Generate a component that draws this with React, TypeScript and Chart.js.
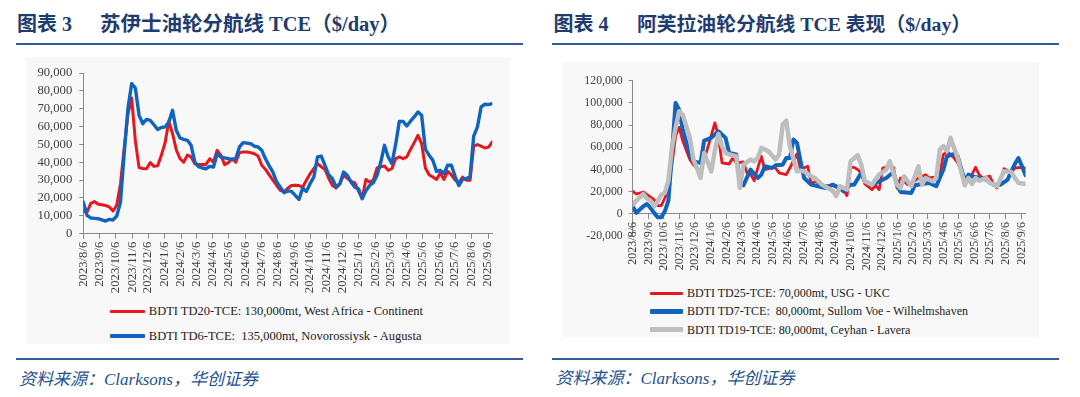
import React, { useEffect, useRef } from 'react';
import { Chart, registerables } from 'chart.js';

Chart.register(...registerables);

// ---------- tick labels (monthly) ----------
const tickLabels = [
  '2023/8/6', '2023/9/6', '2023/10/6', '2023/11/6', '2023/12/6',
  '2024/1/6', '2024/2/6', '2024/3/6', '2024/4/6', '2024/5/6', '2024/6/6', '2024/7/6',
  '2024/8/6', '2024/9/6', '2024/10/6', '2024/11/6', '2024/12/6',
  '2025/1/6', '2025/2/6', '2025/3/6', '2025/4/6', '2025/5/6', '2025/6/6', '2025/7/6',
  '2025/8/6', '2025/9/6',
];
const startDate = '2023/8/6';
const lastWeek = 110;

// ---------- left chart: Suezmax (values in $000/day, weekly) ----------
const suezWeeks = Array.from({ length: 111 }, (_, i) => i);
const td20Values = [
  12.5, 12, 17, 18, 16.5, 16.2, 15.8, 15, 12.7, 16, 28, 48, 67, 76, 52, 37, 36.5, 36.4, 39.8, 37.7,
  38, 44, 51, 63, 56, 47, 42, 40, 44, 43, 39.2, 38.7, 38.8, 38.8, 42, 40, 46.7, 43.9, 38.7, 39.8,
  42, 40, 45.4, 45.8, 45.8, 45.4, 44.8, 43.5, 38.3, 36, 33, 30, 27, 24.3, 23.5, 25.5, 27, 27.2, 27, 26,
  30, 33.6, 36.5, 39.2, 37.5, 36, 31, 27, 25.6, 28, 32.7, 31, 29.3, 28.6, 24, 19.6, 30.4, 28.9, 30, 36.8,
  37.5, 37.9, 35.5, 36.5, 42, 43, 42, 43, 47.2, 51, 55.1, 50.4, 36.8, 33, 31.7, 30.4, 34, 30.4, 34.9, 33,
  30, 28.5, 31.7, 30, 29.9, 49.1, 49.9, 49, 48, 48.5, 51.4,
];
const td6Values = [
  17.7, 10.3, 8.8, 8.6, 8.4, 7.8, 7.1, 8, 7.7, 9.9, 17.7, 45, 70, 84, 81.6, 66.3, 61.6, 64, 63.5, 61,
  58.4, 59.5, 59.8, 62.6, 69.1, 57.9, 53.6, 52.8, 52.3, 49.5, 40.1, 37.5, 36.8, 36.4, 37.7, 37.3, 44.8, 43, 42.5, 42,
  41.5, 42, 48.6, 51, 50.7, 50.4, 49, 48.6, 46.7, 42, 38, 34.5, 28.9, 26, 23, 24, 23.7, 21.5, 19.2, 25.6,
  23.7, 28, 31.7, 43, 43.5, 38.3, 33, 30.8, 26.1, 28, 34.5, 32.7, 29, 26.1, 25.2, 19.6, 24, 27, 28.6, 32.7,
  40, 49.5, 43, 39.2, 50, 62.9, 62.9, 60.3, 63, 65.4, 68.2, 66.3, 47.2, 44, 41.1, 34.9, 35.5, 33.6, 38.3, 38.3,
  32, 27, 30.4, 31, 31.7, 54.7, 59.8, 71, 72.5, 72.3, 72.8,
];

// ---------- right chart: Aframax (values in $000/day) ----------
const td25Weeks = [0, 1, 3, 4, 6, 7, 8, 9, 10, 11, 12, 13, 14, 16, 17, 19, 21, 23, 24, 25, 27, 28, 29, 31, 32, 33, 34, 36, 37, 39, 40, 41, 43, 44, 46, 47, 49, 50, 51, 53, 54, 56, 57, 59, 60, 61, 62, 63, 64, 65, 67, 68, 69, 70, 72, 73, 74, 75, 77, 78, 80, 82, 83, 84, 85, 86, 87, 88, 90, 91, 93, 94, 96, 97, 98, 100, 101, 102, 104, 106, 107, 109, 110];
const td25Values = [20.4, 18, 19.8, 17.5, 12.9, 7.5, 7.5, 14.4, 24, 45, 70, 78, 66, 49, 44.4, 38.4, 59.5, 82, 70, 46, 45, 50.4, 46, 46.8, 37, 36, 30, 52, 40, 42, 41.4, 37, 35.4, 41.4, 54, 40, 43, 27, 29.4, 26, 25.5, 25.8, 24, 21.9, 16.5, 42, 42, 40, 37, 27, 21.9, 25.8, 21.9, 41.4, 43, 42, 23.4, 32.4, 26.4, 27, 32.4, 35.4, 32.4, 33, 32, 36, 53.5, 56.5, 50.4, 46, 32.4, 29.4, 42, 35.4, 32.4, 34, 27, 23.4, 40.8, 37, 41.4, 42, 41.4];
const td7Weeks = [0, 1, 2, 3, 4, 5, 6, 7, 8, 9, 10, 11, 12, 13, 14, 16, 17, 19, 20, 22, 24, 26, 27, 29, 30, 31, 33, 35, 36, 37, 39, 40, 42, 43, 44, 45, 46, 47, 48, 50, 52, 54, 56, 58, 59, 61, 62, 64, 65, 67, 69, 71, 73, 74, 75, 78, 79, 81, 83, 85, 87, 88, 90, 91, 93, 94, 95, 97, 99, 101, 103, 105, 106, 107, 108, 109, 110];
const td7Values = [7, 1, 4, 7, 9, 5.4, 1, -3, -3, 2.4, 12, 55, 100, 94, 76, 53.5, 47.4, 46, 66, 68.5, 74.5, 68.5, 55, 53.5, 29.4, 25.8, 40, 32.4, 35.4, 43, 41.4, 43.8, 44.4, 50.4, 50.4, 67, 64, 47.4, 32.4, 26.4, 25, 23.4, 26.4, 23.4, 20.4, 26.4, 26.4, 37, 29.4, 25.8, 29.4, 32.4, 37.8, 26.4, 19.8, 18.9, 25.8, 27, 27.9, 25, 40, 52, 54, 52, 29.4, 35.4, 34, 32.4, 31, 26.4, 26.4, 31, 38.4, 45, 50.4, 43, 34.8];
const td19Weeks = [0, 1, 3, 4, 5, 6, 7, 8, 9, 10, 11, 12, 13, 14, 16, 17, 18, 19, 20, 22, 23, 24, 25, 26, 27, 29, 30, 31, 33, 34, 35, 36, 38, 40, 41, 42, 43, 44, 46, 47, 48, 50, 51, 53, 54, 56, 57, 58, 60, 61, 63, 64, 65, 67, 69, 71, 72, 74, 75, 76, 78, 80, 81, 82, 84, 85, 86, 87, 88, 89, 90, 91, 93, 94, 95, 96, 97, 99, 100, 102, 104, 106, 107, 108, 110];
const td19Values = [8.4, 12, 18, 13.8, 12, 6.9, 11.4, 17.4, 19, 30, 60, 77.5, 92.5, 89.5, 68.5, 49, 41.4, 32.4, 55, 38.4, 57, 72, 61, 55, 53.5, 52, 23.4, 44.4, 49, 47.4, 50.4, 59.5, 56.5, 49, 53.5, 80.5, 84, 61, 38.4, 39, 38.4, 34, 32.4, 26.4, 24.5, 21, 16, 25, 22, 47.4, 52.9, 44.4, 29.4, 26.4, 35.4, 40, 47.4, 26.4, 23.4, 34, 25, 43, 26.4, 32.4, 29.4, 32.4, 58, 61, 56.5, 68.5, 59.5, 50.4, 25.8, 32.4, 27, 32.4, 30, 32.4, 28, 25, 38.4, 37.8, 32.4, 28, 27];

// ---------- labels ----------
const leftTitleNo = '图表 3';
const leftTitle = '苏伊士油轮分航线 TCE（$/day）';
const rightTitleNo = '图表 4';
const rightTitle = '阿芙拉油轮分航线 TCE 表现（$/day）';
const sourceText = '资料来源：Clarksons，华创证券';
const td20Label = 'BDTI TD20-TCE: 130,000mt, West Africa - Continent';
const td6Label = 'BDTI TD6-TCE:  135,000mt, Novorossiysk - Augusta';
const td25Label = 'BDTI TD25-TCE: 70,000mt, USG - UKC';
const td7Label = 'BDTI TD7-TCE:  80,000mt, Sullom Voe - Wilhelmshaven';
const td19Label = 'BDTI TD19-TCE: 80,000mt, Ceyhan - Lavera';

// ---------- styling ----------
const RED = '#E8161E';
const BLUE = '#1064BE';
const GRAY = '#BEBEBE';
const AXIS = '#8a8a8a';
const TICKTXT = '#404040';
const SERIF = "'Liberation Serif', 'Times New Roman', serif";
const CJKSERIF = "'Liberation Serif', 'Noto Sans CJK SC', serif";
const TITLE_C = '#1F3C6E';
const RULE_C = '#2E5C9E';
const SRC_C = '#24528F';

const dayOf = (s: string) => {
  const [y, m, d] = s.split('/').map(Number);
  const [y0, m0, d0] = startDate.split('/').map(Number);
  return (Date.UTC(y, m - 1, d) - Date.UTC(y0, m0 - 1, d0)) / 86400000;
};
const tickDays = tickLabels.map(dayOf);
const pts = (weeks: number[], vals: number[]) => weeks.map((w, i) => ({ x: w * 7, y: vals[i] * 1000 }));

function xAxis(fontSize: number, extra: any) {
  return {
    type: 'linear',
    min: 0,
    max: lastWeek * 7,
    afterBuildTicks: (s: any) => {
      s.ticks = tickDays.map((v) => ({ value: v }));
    },
    ticks: {
      autoSkip: false,
      minRotation: 90,
      maxRotation: 90,
      padding: 3,
      color: TICKTXT,
      font: { family: SERIF, size: fontSize },
      callback: (_v: any, i: number) => tickLabels[i],
    },
    grid: { drawOnChartArea: false, drawTicks: true, tickLength: 5, color: AXIS, lineWidth: 1 },
    border: { display: true, color: AXIS, width: 1 },
    ...extra,
  };
}

function yAxis(min: number, max: number, step: number, fontSize: number, width: number, pad: number) {
  return {
    min,
    max,
    ticks: {
      stepSize: step,
      autoSkip: false,
      padding: pad,
      color: TICKTXT,
      font: { family: SERIF, size: fontSize },
      callback: (v: any) => Number(v).toLocaleString('en-US'),
    },
    grid: { drawOnChartArea: false, drawTicks: true, tickLength: 4, color: AXIS, lineWidth: 1 },
    border: { display: true, color: AXIS, width: 1 },
    afterFit: (s: any) => {
      s.width = width;
    },
  };
}

function line(label: string, data: any[], color: string, width: number, order: number) {
  return {
    label,
    data,
    borderColor: color,
    backgroundColor: color,
    borderWidth: width,
    pointRadius: 0,
    tension: 0,
    fill: false,
    order,
    borderJoinStyle: 'round',
    borderCapStyle: 'round',
  };
}

function ChartBox({ left, top, width, height, config }: any) {
  const ref = useRef<HTMLCanvasElement | null>(null);
  useEffect(() => {
    if (!ref.current) return;
    const chart = new Chart(ref.current, config());
    return () => chart.destroy();
  }, []);
  return (
    <canvas
      ref={ref}
      width={width}
      height={height}
      style={{ position: 'absolute', left, top, width, height }}
    />
  );
}

const leftConfig = () => ({
  type: 'line',
  data: {
    datasets: [
      line(td20Label, pts(suezWeeks, td20Values), RED, 3, 2),
      line(td6Label, pts(suezWeeks, td6Values), BLUE, 3.4, 1),
    ],
  },
  options: {
    responsive: false,
    animation: false,
    devicePixelRatio: 1,
    layout: { padding: { left: 0, top: 16, right: 17.7, bottom: 0 } },
    plugins: { legend: { display: false }, tooltip: { enabled: false } },
    scales: {
      x: xAxis(12.7, {
        afterFit: (s: any) => {
          s.height = 66.3;
        },
      }),
      y: yAxis(0, 90000, 10000, 12.7, 58.3, 7),
    },
  },
});

const rightConfig = () => ({
  type: 'line',
  data: {
    datasets: [
      line(td25Label, pts(td25Weeks, td25Values), RED, 2.8, 3),
      line(td7Label, pts(td7Weeks, td7Values), BLUE, 4, 2),
      line(td19Label, pts(td19Weeks, td19Values), GRAY, 4.5, 1),
    ],
  },
  options: {
    responsive: false,
    animation: false,
    devicePixelRatio: 1,
    layout: { padding: { left: 0, top: 18.7, right: 11, bottom: 40.8 } },
    plugins: { legend: { display: false }, tooltip: { enabled: false } },
    scales: {
      y: yAxis(-20000, 120000, 20000, 11.8, 70.7, 6),
      x: xAxis(12, { position: { y: 0 } }),
    },
  },
});

function Legend({ x, textX, rows }: any) {
  return (
    <>
      {rows.map((r: any, i: number) => (
        <div
          key={i}
          style={{
            position: 'absolute',
            left: x,
            top: r.y - 9,
            height: 18,
            display: 'flex',
            alignItems: 'center',
          }}
        >
          <div style={{ width: r.w, height: r.t, background: r.c, borderRadius: 1 }} />
          <div
            style={{
              marginLeft: textX - x - r.w,
              fontFamily: SERIF,
              fontSize: r.fs,
              color: '#222',
              whiteSpace: 'pre',
              lineHeight: '18px',
            }}
          >
            {r.label}
          </div>
        </div>
      ))}
    </>
  );
}

const titleStyle: any = {
  position: 'absolute',
  top: 12,
  lineHeight: '24px',
  fontFamily: CJKSERIF,
  fontWeight: 'bold',
  fontSize: 20,
  color: TITLE_C,
  whiteSpace: 'pre',
};
const srcStyle: any = {
  position: 'absolute',
  lineHeight: '22px',
  fontFamily: CJKSERIF,
  fontStyle: 'italic',
  fontSize: 17,
  color: SRC_C,
  whiteSpace: 'pre',
};
const rule = (l: number, r: number, t: number): any => ({
  position: 'absolute',
  left: l,
  top: t,
  width: r - l,
  height: 2,
  background: RULE_C,
});

export default function App() {
  return (
    <div
      style={{
        position: 'absolute',
        left: 0,
        top: 0,
        width: 1080,
        height: 397,
        background: '#fff',
        overflow: 'hidden',
      }}
    >
      {/* Left panel */}
      <div style={{ ...titleStyle, left: 17 }}>{leftTitleNo}</div>
      <div style={{ ...titleStyle, left: 100, fontSize: 20.5 }}>{leftTitle}</div>
      <div style={rule(15.5, 522.7, 43)} />
      <div style={{ position: 'absolute', left: 25.8, top: 57, width: 484, height: 287, background: '#f8f8f8' }} />
      <ChartBox left={25} top={57} width={485} height={243} config={leftConfig} />
      <Legend
        x={109.5}
        textX={148.8}
        rows={[
          { y: 311.3, w: 35, t: 3.5, c: RED, label: td20Label, fs: 12.5 },
          { y: 336, w: 35, t: 3.5, c: BLUE, label: td6Label, fs: 12.5 },
        ]}
      />
      <div style={rule(15.5, 522.7, 358)} />
      <div style={{ ...srcStyle, left: 19, top: 369 }}>{sourceText}</div>

      {/* Right panel */}
      <div style={{ ...titleStyle, left: 553.5 }}>{rightTitleNo}</div>
      <div style={{ ...titleStyle, left: 637, fontSize: 19.8 }}>{rightTitle}</div>
      <div style={rule(552, 1059, 43)} />
      <div style={{ position: 'absolute', left: 562.4, top: 62, width: 476.6, height: 275, background: '#f8f8f8' }} />
      <ChartBox left={562} top={62} width={477} height={215} config={rightConfig} />
      <Legend
        x={649.5}
        textX={687}
        rows={[
          { y: 293, w: 33.5, t: 3, c: RED, label: td25Label, fs: 12 },
          { y: 311.3, w: 33.5, t: 4.5, c: BLUE, label: td7Label, fs: 12 },
          { y: 329.5, w: 33.5, t: 4.5, c: GRAY, label: td19Label, fs: 12 },
        ]}
      />
      <div style={rule(552, 1059, 358)} />
      <div style={{ ...srcStyle, left: 555.5, top: 368 }}>{sourceText}</div>
    </div>
  );
}
